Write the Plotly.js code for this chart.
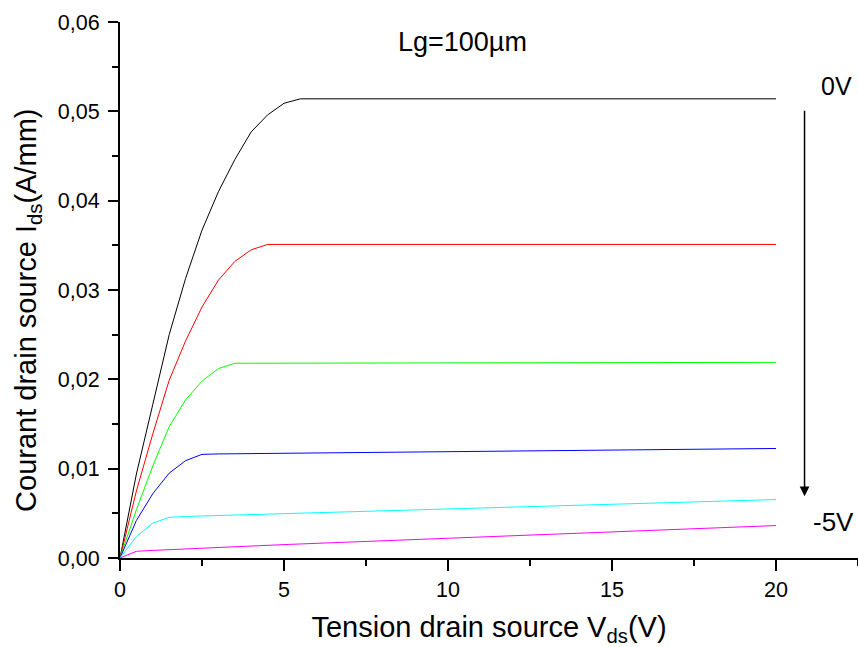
<!DOCTYPE html>
<html>
<head>
<meta charset="utf-8">
<script src="https://cdn.plot.ly/plotly-3.0.1.min.js"></script>
<style>html,body{margin:0;padding:0;background:#fff;}#chart{width:858px;height:647px;}</style>
</head>
<body>
<div id="chart"></div>
<script>
// Drain-source voltage samples (V) and drain currents (A/mm) for each gate bias
const vdsBlack = [0, 0.5, 1.0, 1.5, 2.0, 2.5, 3.0, 3.5, 4.0, 4.5, 5.0, 5.5, 20];
const idsBlack = [0, 0.0094, 0.0172, 0.0250, 0.0313, 0.0367, 0.0410, 0.0446, 0.0477, 0.0496, 0.0509, 0.0514, 0.0514];

const vdsRed = [0, 0.5, 1.0, 1.5, 2.0, 2.5, 3.0, 3.5, 4.0, 4.5, 20];
const idsRed = [0, 0.0075, 0.0139, 0.0199, 0.0243, 0.0281, 0.0311, 0.0332, 0.0345, 0.0351, 0.0351];

const vdsGreen = [0, 0.5, 1.0, 1.5, 2.0, 2.5, 3.0, 3.5, 20];
const idsGreen = [0, 0.0054, 0.0103, 0.0147, 0.0177, 0.0198, 0.0212, 0.0218, 0.0219];

const vdsBlue = [0, 0.5, 1.0, 1.5, 2.0, 2.5, 3.0, 20];
const idsBlue = [0, 0.0042, 0.0072, 0.0095, 0.0109, 0.0116, 0.01165, 0.01226];

const vdsCyan = [0, 0.5, 1.0, 1.5, 2.0, 20];
const idsCyan = [0, 0.0024, 0.0039, 0.00455, 0.00465, 0.00654];

const vdsMagenta = [0, 0.5, 1.0, 5.0, 20];
const idsMagenta = [0, 0.00075, 0.00085, 0.00150, 0.00363];

const xTickVals = [0, 5, 10, 15, 20];
const xTickText = ['0', '5', '10', '15', '20'];
const yTickVals = [0, 0.01, 0.02, 0.03, 0.04, 0.05, 0.06];
const yTickText = ['0,00', '0,01', '0,02', '0,03', '0,04', '0,05', '0,06'];

const series = [
  [vdsBlack, idsBlack, '#000000'],
  [vdsRed, idsRed, '#ff0000'],
  [vdsGreen, idsGreen, '#00ff00'],
  [vdsBlue, idsBlue, '#0000ff'],
  [vdsCyan, idsCyan, '#00ffff'],
  [vdsMagenta, idsMagenta, '#ff00ff']
];

const traces = series.map(s => ({
  x: s[0], y: s[1], type: 'scatter', mode: 'lines',
  line: {color: s[2], width: 1}, hoverinfo: 'skip', cliponaxis: false
}));

const font = 'Liberation Sans, Arial, sans-serif';

const layout = {
  width: 858, height: 647,
  margin: {l: 120, r: 0, t: 22, b: 89},
  paper_bgcolor: '#ffffff', plot_bgcolor: '#ffffff',
  showlegend: false,
  font: {family: font, color: '#000000', size: 21},
  xaxis: {
    range: [0, 22.5], showgrid: false, zeroline: false,
    showline: true, linecolor: '#000000', linewidth: 2,
    ticks: 'outside', ticklen: 11, tickwidth: 2, tickcolor: '#000000',
    tickmode: 'array', tickvals: xTickVals, ticktext: xTickText,
    tickfont: {family: font, size: 21.5, color: '#000000'},
    minor: {dtick: 2.5, tick0: 0, ticks: 'outside', ticklen: 6, tickwidth: 2, tickcolor: '#000000', showgrid: false},
    title: {text: 'Tension drain source V<sub>ds</sub>(V)', font: {family: font, size: 29, color: '#000000'}, standoff: 21}
  },
  yaxis: {
    range: [0, 0.06], showgrid: false, zeroline: false,
    showline: true, linecolor: '#000000', linewidth: 2,
    ticks: 'outside', ticklen: 10, tickwidth: 2, tickcolor: '#000000',
    tickmode: 'array', tickvals: yTickVals, ticktext: yTickText,
    tickfont: {family: font, size: 21.5, color: '#000000'}, ticklabelstandoff: 4,
    minor: {dtick: 0.005, tick0: 0, ticks: 'outside', ticklen: 6, tickwidth: 2, tickcolor: '#000000', showgrid: false}
  },
  annotations: [
    {xref: 'paper', yref: 'paper', x: -0.1247, y: 0.4628, textangle: -90,
     text: 'Courant drain source I<sub>ds</sub>(A/mm)', showarrow: false,
     font: {family: font, size: 29, color: '#000000'}, xanchor: 'center', yanchor: 'middle'},
    {xref: 'x', yref: 'y', x: 10.45, y: 0.0578, text: 'Lg=100µm', showarrow: false,
     font: {family: font, size: 27, color: '#000000'}, xanchor: 'center', yanchor: 'middle'},
    {xref: 'x', yref: 'y', x: 21.85, y: 0.0528, text: '0V', showarrow: false,
     font: {family: font, size: 25, color: '#000000'}, xanchor: 'center', yanchor: 'middle'},
    {xref: 'x', yref: 'y', x: 21.75, y: 0.00400, text: '-5V', showarrow: false,
     font: {family: font, size: 26, color: '#000000'}, xanchor: 'center', yanchor: 'middle'},
    {xref: 'x', yref: 'y', x: 20.87, y: 0.0069, ax: 0, ay: -387, text: '', showarrow: true,
     arrowhead: 2, arrowsize: 1.3, arrowwidth: 1.5, arrowcolor: '#000000'}
  ]
};

Plotly.newPlot('chart', traces, layout, {displayModeBar: false, staticPlot: true});
</script>
</body>
</html>
